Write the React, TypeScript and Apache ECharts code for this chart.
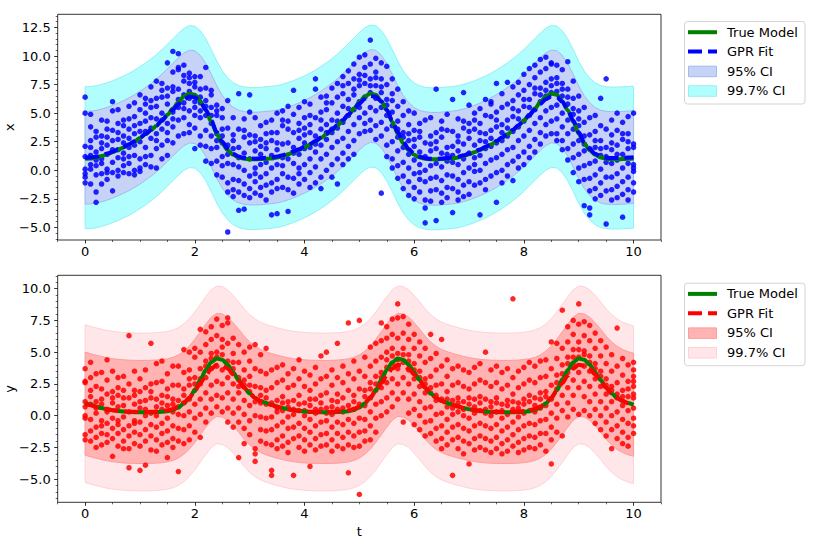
import React, { useEffect, useRef } from 'react';
import * as echarts from 'echarts';

// ---------------- data ----------------
const tValues = [
  0, 0.1, 0.2, 0.3, 0.4, 0.5, 0.6, 0.7, 0.8, 0.9,
  1, 1.1, 1.2, 1.3, 1.4, 1.5, 1.6, 1.7, 1.8, 1.9,
  2, 2.1, 2.2, 2.3, 2.4, 2.5, 2.6, 2.7, 2.8, 2.9,
  3, 3.1, 3.2, 3.3, 3.4, 3.5, 3.6, 3.7, 3.8, 3.9,
  4, 4.1, 4.2, 4.3, 4.4, 4.5, 4.6, 4.7, 4.8, 4.9,
  5, 5.1, 5.2, 5.3, 5.4, 5.5, 5.6, 5.7, 5.8, 5.9,
  6, 6.1, 6.2, 6.3, 6.4, 6.5, 6.6, 6.7, 6.8, 6.9,
  7, 7.1, 7.2, 7.3, 7.4, 7.5, 7.6, 7.7, 7.8, 7.9,
  8, 8.1, 8.2, 8.3, 8.4, 8.5, 8.6, 8.7, 8.8, 8.9,
  9, 9.1, 9.2, 9.3, 9.4, 9.5, 9.6, 9.7, 9.8, 9.9,
  10,
];

const trueX = [
  1.0, 1.04, 1.12, 1.24, 1.4, 1.58, 1.78, 2.0, 2.25, 2.52, 2.82, 3.15, 3.5, 3.9, 4.35, 4.85, 5.4, 5.95, 6.45, 6.72, 6.6, 6.05, 5.25, 4.25, 3.2, 2.35, 1.75, 1.35, 1.12, 1.02, 0.97, 0.96, 0.98,
  1.0, 1.04, 1.12, 1.24, 1.4, 1.58, 1.78, 2.0, 2.25, 2.52, 2.82, 3.15, 3.5, 3.9, 4.35, 4.85, 5.4, 5.95, 6.45, 6.72, 6.6, 6.05, 5.25, 4.25, 3.2, 2.35, 1.75, 1.35, 1.12, 1.02, 0.97, 0.96, 0.98,
  1.0, 1.04, 1.12, 1.24, 1.4, 1.58, 1.78, 2.0, 2.25, 2.52, 2.82, 3.15, 3.5, 3.9, 4.35, 4.85, 5.4, 5.95, 6.45, 6.72, 6.6, 6.05, 5.25, 4.25, 3.2, 2.35, 1.75, 1.35, 1.12, 1.02, 0.97, 0.96, 0.98,
  1.0, 1.04,
];

const gprX = [
  1.1, 1.12, 1.18, 1.3, 1.45, 1.62, 1.82, 2.04, 2.28, 2.55, 2.85, 3.18, 3.53, 3.92, 4.35, 4.82, 5.3, 5.78, 6.2, 6.45, 6.4, 6.0, 5.3, 4.35, 3.35, 2.5, 1.88, 1.45, 1.2, 1.08, 1.03, 1.02, 1.05,
  1.1, 1.14, 1.2, 1.32, 1.47, 1.64, 1.84, 2.06, 2.3, 2.57, 2.87, 3.2, 3.56, 3.96, 4.4, 4.88, 5.36, 5.84, 6.26, 6.5, 6.44, 6.02, 5.3, 4.35, 3.34, 2.48, 1.86, 1.43, 1.18, 1.06, 1.01, 1.0, 1.03,
  1.08, 1.12, 1.19, 1.31, 1.46, 1.63, 1.83, 2.05, 2.29, 2.56, 2.86, 3.19, 3.55, 3.94, 4.37, 4.84, 5.32, 5.8, 6.22, 6.46, 6.41, 6.0, 5.3, 4.34, 3.33, 2.47, 1.86, 1.44, 1.2, 1.1, 1.07, 1.07, 1.09,
  1.12, 1.15,
];

const trueY = [
  1.0, 0.85, 0.72, 0.6, 0.5, 0.43, 0.37, 0.32, 0.29, 0.27, 0.26, 0.26, 0.27, 0.28, 0.3, 0.35, 0.45, 0.65, 0.98, 1.4, 2.0, 2.8, 3.6, 4.2, 4.5, 4.4, 4.0, 3.4, 2.8, 2.2, 1.75, 1.4, 1.15,
  1.0, 0.85, 0.72, 0.6, 0.5, 0.43, 0.37, 0.32, 0.29, 0.27, 0.26, 0.26, 0.27, 0.28, 0.3, 0.35, 0.45, 0.65, 0.98, 1.4, 2.0, 2.8, 3.6, 4.2, 4.5, 4.4, 4.0, 3.4, 2.8, 2.2, 1.75, 1.4, 1.15,
  1.0, 0.85, 0.72, 0.6, 0.5, 0.43, 0.37, 0.32, 0.29, 0.27, 0.26, 0.26, 0.27, 0.28, 0.3, 0.35, 0.45, 0.65, 0.98, 1.4, 2.0, 2.8, 3.6, 4.2, 4.5, 4.4, 4.0, 3.4, 2.8, 2.2, 1.75, 1.4, 1.15,
  1.0, 0.85,
];

const gprY = [
  0.95, 0.82, 0.7, 0.6, 0.5, 0.43, 0.38, 0.34, 0.31, 0.3, 0.29, 0.29, 0.3, 0.32, 0.36, 0.42, 0.53, 0.72, 1.02, 1.42, 1.95, 2.55, 3.15, 3.7, 4.0, 3.95, 3.7, 3.25, 2.75, 2.2, 1.75, 1.4, 1.15,
  0.97, 0.83, 0.71, 0.6, 0.5, 0.43, 0.38, 0.34, 0.31, 0.3, 0.29, 0.29, 0.3, 0.32, 0.36, 0.42, 0.53, 0.72, 1.02, 1.42, 1.95, 2.55, 3.15, 3.7, 4.0, 3.95, 3.7, 3.25, 2.75, 2.2, 1.75, 1.4, 1.15,
  0.98, 0.84, 0.72, 0.61, 0.51, 0.44, 0.38, 0.34, 0.31, 0.3, 0.29, 0.29, 0.3, 0.32, 0.36, 0.42, 0.53, 0.72, 1.02, 1.42, 1.95, 2.55, 3.15, 3.7, 4.0, 3.95, 3.7, 3.25, 2.75, 2.2, 1.75, 1.4, 1.15,
  0.98, 0.86,
];

const sigmaX = 2.07;
const sigmaY = 2.07;

// observations: one column per t value
const xScatter: number[][] = [
  [6.4, 5.0, 2.1, 1.2, 0.1, -0.3, -0.6, -1.1],
  [4.9, 3.8, 2.6, 1.3, 0.5, 0.1, -1.2, 2.0],
  [-2.8, -1.9, 0.4, 1.6, 2.9, 3.4, 0.9, -0.4],
  [4.4, 3.0, 1.9, 0.6, -0.3, -1.2, 2.4, 1.0],
  [3.6, 4.3, 2.2, 0.1, -0.8, 1.4, 2.9, -0.2],
  [6.0, -1.8, 1.8, 3.5, 0.7, -0.2, 2.6, 5.2],
  [5.3, 4.1, 2.7, 1.1, 0.0, -0.5, 3.3, 1.8],
  [3.9, 2.4, 1.0, -0.2, 4.4, 0.4, 3.0, 1.5],
  [5.6, 4.5, 2.8, 1.2, -0.3, 0.6, 3.6, 2.0],
  [4.7, 3.2, 1.3, 0.0, 5.9, 2.2, -0.4, 3.9],
  [6.6, 4.1, 2.5, 1.0, 0.2, 3.4, 5.3, -0.1],
  [6.3, 5.0, 3.4, 2.0, 0.5, 4.3, 1.2, 5.8],
  [7.3, 5.5, 4.6, 2.8, 1.3, 0.3, 3.7, 6.1],
  [7.8, 6.3, 4.5, 3.2, 1.9, 0.2, 5.6, 2.6],
  [7.6, 6.4, 5.0, 3.6, 2.2, 1.0, 4.4, 7.0],
  [9.4, 7.2, 5.8, 4.1, 2.6, 1.3, 6.5, 3.3],
  [10.4, 8.6, 6.9, 5.1, 3.8, 2.4, 4.5, 7.3],
  [10.2, 8.8, 7.1, 5.5, 4.4, 3.0, 6.2, 9.0],
  [9.2, 7.8, 6.6, 5.4, 4.6, 3.2, 8.3, 5.9],
  [8.5, 7.6, 6.3, 5.2, 4.0, 3.3, 8.1, 6.9],
  [8.2, 7.3, 6.0, 4.8, 3.7, 1.9, 5.5, 7.7],
  [8.2, 7.1, 5.9, 4.6, 3.0, 2.2, 6.4, 5.2],
  [9.0, 7.2, 6.1, 4.8, 3.5, 2.1, 5.6, 0.8],
  [6.6, 5.5, 4.1, 3.0, 1.9, 0.6, 7.0, 4.8],
  [5.7, 4.8, 3.2, 2.0, 0.8, -0.4, 5.2, 2.6],
  [5.4, 3.6, 2.4, 1.2, 0.4, -0.6, 4.6, 3.0],
  [6.1, -5.4, 3.7, 2.2, 0.6, -1.1, -1.9, 1.4],
  [4.6, 3.1, 1.9, 0.5, -0.8, -1.7, 2.6, -2.3],
  [6.7, -3.5, 3.6, 2.0, 0.3, -0.9, -1.9, 1.1],
  [-3.4, 4.5, 2.9, 1.5, 0.0, -1.2, -2.2, 3.5],
  [6.6, 5.1, 2.4, 1.0, -0.5, -1.6, -2.4, 3.1],
  [4.6, 3.0, 1.7, 0.2, -1.0, -2.0, 2.5, -0.3],
  [3.9, 2.7, 1.4, 0.5, -0.6, -1.5, -2.2, 2.1],
  [4.2, 3.2, 1.9, 0.7, -0.3, -1.3, -2.6, 2.4],
  [-3.9, 4.4, 2.6, 1.3, 0.2, -1.1, 3.3, -1.9],
  [-3.8, 5.0, 3.3, 1.8, 0.5, -0.8, 2.4, -1.6],
  [5.2, 3.9, 2.3, 1.1, -0.3, -1.5, 4.4, 0.4],
  [-3.6, 5.6, 3.6, 2.4, 1.0, -0.6, 4.3, -1.7],
  [7.0, 4.9, 3.3, 2.0, 0.6, -0.7, -2.0, 1.5],
  [5.5, 4.1, 2.8, 1.4, 0.2, -1.2, 3.5, -0.3],
  [6.0, 4.6, 3.1, 1.9, 0.5, -0.8, 3.7, 2.4],
  [5.8, 4.8, 3.3, 2.0, 1.0, -0.2, -1.5, 4.0],
  [8.0, 7.1, 4.6, 3.0, 1.6, 0.3, -1.1, 2.3],
  [6.4, 5.1, 3.6, 2.2, 1.0, -0.6, 4.4, -1.6],
  [6.5, 5.3, 4.0, 2.7, 1.4, 0.0, 5.9, 3.3],
  [7.2, 5.9, 4.4, 3.3, 2.0, 0.5, -0.6, 3.6],
  [7.6, 6.4, 5.0, 3.7, 2.5, 1.0, -1.2, 4.3],
  [8.2, 6.7, 5.6, 4.2, 2.8, 1.5, 0.5, 7.4],
  [8.7, 7.6, 6.2, 4.8, 3.4, 2.1, 1.0, 5.4],
  [9.3, 8.0, 6.6, 5.3, 4.0, 2.6, 1.4, 7.1],
  [9.9, 8.4, 7.4, 6.0, 4.6, 3.2, 5.5, 7.9],
  [10.1, 9.0, 7.6, 6.4, 5.0, 4.1, 3.4, 8.3],
  [11.4, 9.3, 8.0, 6.8, 5.5, 4.4, 3.5, 7.4],
  [9.8, 8.6, 7.4, 6.3, 5.2, 3.9, 2.7, 8.1],
  [9.4, 8.0, 6.8, 5.5, 4.2, 3.0, -2.0, 7.3],
  [9.1, 7.5, 6.2, 4.8, 3.6, 2.2, 1.2, 5.7],
  [8.0, 6.7, 5.1, 3.9, 2.5, 1.0, 0.2, 6.1],
  [7.1, 5.6, 4.3, 2.9, 1.7, 0.4, -0.7, 3.6],
  [6.0, 4.8, 3.3, 2.0, 0.7, -0.5, -1.6, 2.9],
  [5.2, 4.0, 2.6, 1.4, 0.2, -1.0, -2.2, 3.2],
  [5.0, 3.5, 2.1, 0.9, -0.3, -1.5, -2.5, 2.7],
  [4.1, 2.9, 1.6, 0.5, -0.8, -1.9, 3.4, -0.2],
  [-3.3, -2.6, -4.6, 4.4, 2.4, 1.2, 0.0, -1.0],
  [4.6, 3.0, 1.7, 0.4, -0.7, -1.8, 2.3, -2.7],
  [7.1, -4.4, 3.3, 1.9, 0.6, -0.6, -1.7, 2.5],
  [4.3, 2.9, 1.5, 0.3, -0.9, -2.0, 3.6, -2.8],
  [4.9, 3.5, 2.0, 0.8, -0.4, -1.5, -2.4, 1.4],
  [6.2, -3.7, 3.4, 2.1, 0.7, -0.5, -1.6, 1.3],
  [4.5, 3.0, 1.7, 0.5, -0.8, -1.9, 2.5, -2.6],
  [6.8, 3.7, 2.3, 1.0, -0.2, -1.3, -2.3, 4.3],
  [5.7, 4.1, 2.8, 1.5, 0.2, -1.0, -2.1, 3.4],
  [5.0, 3.6, 2.2, 1.1, -0.1, -1.3, 4.4, 0.5],
  [-3.9, 5.4, 4.1, 2.6, 1.3, 0.0, -1.1, 3.3],
  [6.2, 4.8, 3.2, 1.9, 0.6, -0.8, -1.7, 2.5],
  [5.8, 4.7, 3.5, 2.1, 0.9, -0.5, 6.0, 2.8],
  [7.6, -2.8, 5.1, 3.8, 2.4, 1.1, -0.2, 4.4],
  [6.7, 5.5, 4.0, 2.6, 1.4, 0.0, -1.1, 3.3],
  [7.7, 5.8, 4.4, 3.0, 1.8, 0.5, -0.5, 3.7],
  [7.3, 6.1, 4.7, 3.4, 2.0, 0.8, -0.9, 5.4],
  [7.7, 6.6, 5.2, 3.8, 2.6, 1.2, 0.2, 4.5],
  [8.4, 7.0, 5.6, 4.3, 3.0, 1.6, 0.5, 6.2],
  [8.9, 7.5, 6.2, 4.8, 3.5, 2.1, 1.1, 5.5],
  [9.2, 8.1, 6.7, 5.3, 4.1, 2.7, 1.6, 7.2],
  [9.7, 8.6, 7.2, 6.0, 4.6, 3.3, 2.3, 6.6],
  [9.9, 8.9, 7.7, 6.5, 5.2, 4.0, 3.0, 7.0],
  [9.4, 9.3, 8.0, 6.8, 5.5, 4.3, 3.2, 7.4],
  [9.2, 8.1, 6.9, 5.7, 4.5, 3.2, 7.6, 2.6],
  [8.8, 7.6, 6.5, 5.0, 3.8, 2.6, 1.8, 7.1],
  [9.5, 7.1, 5.8, 4.4, 3.2, 1.9, 0.9, 6.4],
  [7.8, 6.3, 4.9, 3.6, 2.3, 1.1, -0.2, 5.4],
  [6.5, 5.2, 3.9, 2.6, 1.4, 0.2, -1.0, 4.5],
  [-3.1, 5.5, 4.2, 3.0, 1.7, 0.4, -0.8, 2.3],
  [-3.3, -3.9, 4.6, 3.1, 1.9, 0.6, -0.7, -1.8],
  [4.8, 3.4, 2.0, 0.8, -0.4, -1.6, -2.5, 2.6],
  [6.3, 3.9, 2.6, 1.3, 0.1, -1.1, -2.2, 1.9],
  [8.0, -4.7, 3.6, 2.0, 0.7, -0.6, -1.8, 1.2],
  [4.4, 3.1, 1.8, 0.6, -0.6, -1.7, -2.6, 2.4],
  [5.0, 3.5, 2.2, 0.9, -0.3, -1.4, -2.4, 1.4],
  [-4.1, 4.2, 2.7, 1.4, 0.2, -1.0, -2.1, 3.2],
  [4.7, 3.2, 1.9, 0.6, -0.6, -1.7, -2.6, 2.5],
  [5.0, 2.3, 2.0, 0.5, 0.2, -0.1, -1.1, -1.9],
];

const yScatter: number[][] = [
  [3.7, 2.7, 2.6, 1.1, 0.7, 0.0, -0.2, -1.5, -1.9],
  [4.2, 2.0, 0.9, -0.3, -1.2, 1.5, 3.0, -2.0],
  [3.3, 2.3, 1.1, 0.2, -0.9, -1.7, -2.5, 0.6],
  [3.4, 2.1, 1.3, -0.4, -0.8, -1.4, -2.3, 0.9],
  [4.4, 2.8, 1.7, 0.5, -0.6, -1.5, -2.1, 0.3],
  [-3.2, 3.5, 1.9, 1.0, -0.2, -1.0, -1.8, 1.4],
  [3.0, 1.6, 0.7, -0.4, -1.4, -2.4, 2.2, -0.7],
  [3.1, 2.0, 0.8, -0.1, -1.1, -2.0, -2.6, 1.4],
  [6.3, -4.1, 2.5, 1.4, 0.3, -0.8, -1.6, -2.6],
  [3.5, 2.0, 0.9, -0.4, -1.3, -2.2, 1.6, -0.6],
  [-4.3, 2.9, 1.9, 0.6, -0.5, -1.5, -2.4, 1.1],
  [-3.9, 3.6, 2.2, 1.2, 0.0, -1.1, -2.0, 0.5],
  [5.7, 2.5, 1.4, 0.2, -0.7, -1.6, -2.7, 1.9],
  [4.1, 2.6, 1.3, 0.0, -0.9, -1.9, -2.8, 0.7],
  [4.3, 2.7, 1.6, 0.5, -0.6, -1.4, -2.3, 1.0],
  [-3.3, 3.3, 2.1, 0.8, -0.2, -1.2, -2.1, 1.5],
  [3.9, 2.4, 1.3, 0.3, -0.8, -1.8, -2.5, 0.9],
  [3.9, -4.4, 2.4, 1.2, 0.1, -1.0, -2.0, 0.7],
  [5.2, 3.4, 2.1, 1.0, 0.0, -1.1, -2.2, 1.6],
  [5.0, 3.6, 2.4, 1.3, 0.3, -0.8, -1.9, 2.9],
  [5.3, 4.6, 3.0, 2.0, 0.9, -0.2, -1.3, 2.5],
  [-1.7, 6.8, 5.0, 3.7, 2.5, 1.3, 0.1, 2.9],
  [6.6, 5.6, 4.3, 3.0, 1.8, 0.6, -0.5, 3.9],
  [7.0, 6.0, 4.9, 3.7, 2.4, 1.3, 0.2, 4.5],
  [7.6, 6.3, 5.0, 3.9, 2.7, 1.6, 0.7, 4.6],
  [7.1, 6.0, 4.8, 3.6, 2.5, 1.4, 0.3, 5.4],
  [7.7, 7.3, 5.7, 4.3, 3.0, 1.8, 0.6, -0.5],
  [6.1, 4.9, 3.7, 2.5, 1.3, 0.2, -0.9, 4.2],
  [-3.3, 5.6, 4.2, 3.0, 1.8, 0.6, -0.5, 2.3],
  [-2.2, 5.0, 3.6, 2.4, 1.2, 0.1, -1.0, 2.8],
  [5.4, 4.3, 3.1, 1.9, 0.8, -0.4, -1.5, 2.4],
  [5.6, -2.6, -3.0, -3.6, 3.7, 2.3, 1.1, 0.0],
  [4.8, 3.5, 2.2, 1.0, -0.1, -1.1, -2.0, 1.6],
  [5.3, 3.3, 2.0, 0.9, -0.2, -1.2, -2.2, 1.4],
  [-4.3, -4.7, 3.6, 2.2, 1.0, -0.1, -1.1, -2.3],
  [3.8, 2.6, 1.2, 0.3, -0.8, -1.9, -2.6, 0.6],
  [4.0, 2.8, 1.5, 0.4, -0.5, -1.6, -2.4, 1.0],
  [3.3, 2.2, 1.1, -0.1, -1.0, -2.1, -2.9, 0.7],
  [-4.7, 3.7, 2.4, 1.2, 0.1, -0.9, -1.8, 0.5],
  [4.4, 2.9, 1.6, 0.4, -0.6, -1.6, -2.5, 0.9],
  [3.5, 2.3, 1.0, 0.0, -1.0, -1.9, -2.8, 0.4],
  [-4.0, 3.2, 2.0, 0.8, -0.3, -1.3, -2.3, 1.3],
  [3.8, 2.5, 1.3, 0.2, -0.8, -1.8, -2.7, 0.5],
  [4.7, 2.9, 1.6, 0.5, -0.5, -1.5, -2.4, 1.0],
  [5.0, 3.1, 1.8, 0.6, -0.4, -1.4, -2.3, 0.2],
  [3.6, 2.4, 1.2, 0.1, -0.9, -1.9, -2.8, 0.7],
  [5.7, 3.0, 1.7, 0.5, -0.5, -1.4, -2.4, 1.1],
  [3.9, 2.6, 1.4, 0.3, -0.7, -1.7, -2.6, 0.6],
  [7.3, -4.5, 3.3, 2.0, 0.8, -0.3, -1.3, -2.3],
  [4.3, 2.9, 1.6, 0.5, -0.6, -1.6, -2.5, 1.1],
  [7.5, -6.2, 3.5, 2.1, 0.9, -0.2, -1.3, -2.4],
  [4.6, 3.1, 2.0, 0.8, -0.3, -1.2, -2.0, 1.5],
  [5.4, 3.9, 2.6, 1.4, 0.3, -0.8, -1.9, 2.1],
  [-1.3, 5.7, 4.3, 3.1, 2.0, 0.9, -0.2, 2.5],
  [7.3, 5.9, 4.6, 3.4, 2.2, 1.1, 0.0, 3.0],
  [7.0, 6.1, 5.0, 3.8, 2.6, 1.4, 0.3, 4.4],
  [7.6, 6.4, 5.3, 4.1, 2.9, 1.8, 0.7, 4.7],
  [8.8, 7.7, 6.1, 4.9, 3.7, 2.5, 1.3, 4.4],
  [7.8, 6.5, 5.3, 4.2, 3.0, 1.8, -0.5, 4.8],
  [7.2, 6.0, 4.8, 3.6, 2.5, 1.3, 0.2, 4.3],
  [6.4, 5.3, 4.1, 2.9, 1.7, 0.5, -0.7, 3.6],
  [5.8, 4.7, 3.5, 2.3, 1.1, 0.0, -1.1, 3.0],
  [5.3, 4.2, 2.9, 1.8, 0.6, -0.5, -1.6, 2.5],
  [6.4, 4.5, 3.1, 1.8, 0.7, -0.4, -1.4, 2.2],
  [4.9, 3.6, 2.4, 1.2, 0.1, -1.0, -2.0, 1.6],
  [6.0, 3.9, 2.5, 1.3, 0.2, -0.8, -1.8, -2.6],
  [4.4, 3.1, 1.9, 0.7, -0.3, -1.3, -2.3, 1.3],
  [-4.7, 3.7, 2.4, 1.2, 0.1, -0.9, -1.9, 0.6],
  [3.9, 2.6, 1.4, 0.3, -0.7, -1.7, -2.6, 1.0],
  [-3.0, 3.6, 2.3, 1.1, 0.0, -1.0, -2.0, 0.5],
  [-3.8, 3.4, 2.1, 0.9, -0.2, -1.2, -2.2, 1.4],
  [3.8, 2.5, 1.3, 0.2, -0.8, -1.8, -2.7, 0.7],
  [4.1, 2.8, 1.5, 0.4, -0.6, -1.6, -2.5, 1.0],
  [5.0, 2.6, 1.3, 0.2, -0.8, -1.8, -2.7, 0.5],
  [3.6, 2.3, 1.1, 0.0, -1.0, -2.0, -2.9, 0.7],
  [3.9, 2.6, 1.4, 0.3, -0.7, -1.7, -2.6, 1.0],
  [3.4, 2.1, 0.9, -0.2, -1.2, -2.2, -3.0, 0.4],
  [3.7, 2.4, 1.2, 0.1, -0.9, -1.9, -2.8, 0.8],
  [9.2, 3.0, 1.7, 0.5, -0.5, -1.5, -2.4, 1.1],
  [3.5, 2.2, 1.0, -0.1, -1.1, -2.1, -2.9, 0.6],
  [3.8, 2.5, 1.3, 0.2, -0.8, -1.8, -2.7, 0.9],
  [4.2, 2.8, 1.6, 0.4, -0.6, -1.6, -2.5, 1.1],
  [3.9, 2.6, 1.4, 0.3, -0.7, -1.7, -2.6, 0.8],
  [4.3, 3.0, 1.8, 0.6, -0.4, -1.4, -2.3, 1.3],
  [-2.8, 4.4, 3.1, 1.9, 0.8, -0.3, -1.4, 1.5],
  [5.8, -3.8, 3.7, 2.4, 1.3, 0.2, -0.9, -1.9],
  [5.7, 4.5, 3.2, 2.1, 0.9, -0.2, -1.3, 2.6],
  [8.3, -1.6, 5.3, 4.0, 2.8, 1.6, 0.4, 3.3],
  [7.0, 5.8, 4.6, 3.4, 2.2, 1.0, -0.1, 4.1],
  [7.5, 6.4, 5.2, 4.0, 2.8, 1.6, 0.5, 4.6],
  [8.8, 7.2, 5.8, 4.6, 3.4, 2.2, 0.1, 5.2],
  [7.4, 6.3, 5.1, 3.9, 2.7, 1.5, 0.4, 4.8],
  [7.1, 5.9, 4.7, 3.5, 2.3, 1.1, 0.0, 4.2],
  [6.5, 5.3, 4.1, 2.9, 1.7, 0.5, -0.6, 3.7],
  [5.9, 4.7, 3.5, 2.3, 1.1, 0.0, -1.1, 3.1],
  [5.4, 4.1, 2.9, 1.7, 0.6, -0.5, -1.6, 2.4],
  [-2.6, 4.8, 3.5, 2.3, 1.1, 0.0, -1.1, 2.0],
  [6.9, 3.9, 2.6, 1.4, 0.3, -0.8, -1.8, 1.7],
  [4.5, 3.2, 2.0, 0.8, -0.3, -1.3, -2.2, 1.5],
  [-2.4, -1.7, 4.0, 2.7, 1.5, 0.4, -0.6, 2.1],
  [4.2, 3.6, 3.1, 2.7, 2.3, 1.7, 1.4, 0.6, -0.2, -0.8, -1.4],
];

const xTicks = [0, 2, 4, 6, 8, 10];
const yTicksTop = [-5, -2.5, 0, 2.5, 5, 7.5, 10, 12.5];
const yTicksBottom = [-5, -2.5, 0, 2.5, 5, 7.5, 10];
const legendLabels = ['True Model', 'GPR Fit', '95% CI', '99.7% CI'];

// ---------------- helpers ----------------
const FONT = 'DejaVu Sans';

function minorTicks(lo: number, hi: number, step: number, majors: number[]) {
  const out: number[] = [];
  const start = Math.ceil(lo / step - 1e-9);
  const end = Math.floor(hi / step + 1e-9);
  for (let i = start; i <= end; i++) {
    const v = Math.round(i * step * 1000) / 1000;
    if (!majors.some((m) => Math.abs(m - v) < 1e-6)) out.push(v);
  }
  return out;
}

const fmtNum = (v: number) => v.toFixed(1).replace('-', '\u2212');

function xAxesFor(gi: number, withName: boolean) {
  const common = {
    gridIndex: gi,
    type: 'value',
    min: -0.5,
    max: 10.5,
    position: 'bottom',
    axisLine: { show: false, onZero: false },
    splitLine: { show: false },
  };
  return [
    {
      ...common,
      axisTick: { show: true, customValues: xTicks, length: 3.5, lineStyle: { color: '#000', width: 0.8 } },
      axisLabel: { show: true, customValues: xTicks, margin: 5, fontFamily: FONT, fontSize: 13, color: '#000', formatter: (v: number) => String(v) },
      name: withName ? 't' : '',
      nameLocation: 'middle',
      nameGap: 23,
      nameTextStyle: { fontFamily: FONT, fontSize: 13, color: '#000' },
    },
    {
      ...common,
      axisTick: { show: true, customValues: minorTicks(-0.5, 10.5, 0.5, xTicks), length: 2, lineStyle: { color: '#000', width: 0.6 } },
      axisLabel: { show: false },
    },
  ];
}

function yAxesFor(gi: number, min: number, max: number, majors: number[]) {
  const common = {
    gridIndex: gi,
    type: 'value',
    min,
    max,
    position: 'left',
    axisLine: { show: false, onZero: false },
    splitLine: { show: false },
  };
  return [
    {
      ...common,
      axisTick: { show: true, customValues: majors, length: 3.5, lineStyle: { color: '#000', width: 0.8 } },
      axisLabel: { show: true, customValues: majors, margin: 7, fontFamily: FONT, fontSize: 13, color: '#000', formatter: fmtNum },
    },
    {
      ...common,
      axisTick: { show: true, customValues: minorTicks(min, max, 0.5, majors), length: 2, lineStyle: { color: '#000', width: 0.6 } },
      axisLabel: { show: false },
    },
  ];
}

function bandSeries(gi: number, lower: number[], upper: number[], fill: string, stroke: string, z: number) {
  return {
    type: 'custom',
    xAxisIndex: gi * 2,
    yAxisIndex: gi * 2,
    z,
    silent: true,
    data: [[0, 0]],
    renderItem: (params: any, api: any) => {
      const pts: number[][] = [];
      for (let i = 0; i < tValues.length; i++) pts.push(api.coord([tValues[i], upper[i]]));
      for (let i = tValues.length - 1; i >= 0; i--) pts.push(api.coord([tValues[i], lower[i]]));
      return { type: 'polygon', shape: { points: pts }, style: { fill, stroke, lineWidth: 1 } };
    },
  };
}

function panelSeries(gi: number, truth: number[], gpr: number[], sigma: number, pts: number[][], c: any) {
  const u95 = gpr.map((m) => m + 1.96 * sigma);
  const l95 = gpr.map((m) => m - 1.96 * sigma);
  const u997 = gpr.map((m) => m + 3 * sigma);
  const l997 = gpr.map((m) => m - 3 * sigma);
  const scatter = pts.flatMap((col, i) => col.map((v) => [tValues[i], v]));
  return [
    bandSeries(gi, l997, u997, c.outerFill, c.outerEdge, 1),
    bandSeries(gi, l95, u95, c.innerFill, c.innerEdge, 1),
    {
      type: 'scatter',
      xAxisIndex: gi * 2,
      yAxisIndex: gi * 2,
      z: 2,
      symbolSize: 5.5,
      data: scatter,
      itemStyle: { color: c.point, opacity: 0.85 },
      silent: true,
    },
    {
      type: 'line',
      xAxisIndex: gi * 2,
      yAxisIndex: gi * 2,
      z: 3,
      symbol: 'none',
      smooth: 0.3,
      smoothMonotone: 'x',
      data: tValues.map((t, i) => [t, truth[i]]),
      lineStyle: { color: '#008000', width: 4 },
      silent: true,
    },
    {
      type: 'line',
      xAxisIndex: gi * 2,
      yAxisIndex: gi * 2,
      z: 4,
      symbol: 'none',
      smooth: 0.3,
      smoothMonotone: 'x',
      data: tValues.map((t, i) => [t, gpr[i]]),
      lineStyle: { color: c.point, width: 4, type: [14, 6] },
      silent: true,
    },
  ];
}

function legendGraphic(top: number, c: any) {
  const rows = [top + 11.2, top + 30.5, top + 50.2, top + 69.8];
  const x0 = 688;
  const x1 = 717;
  const els: any[] = [
    {
      type: 'rect',
      shape: { x: 684.5, y: top + 0.5, width: 120.5, height: 82.5, r: 3 },
      style: { fill: 'rgba(255,255,255,0.8)', stroke: '#d4d4d4', lineWidth: 1 },
    },
    { type: 'line', shape: { x1: x0, y1: rows[0], x2: x1, y2: rows[0] }, style: { stroke: '#008000', lineWidth: 4 } },
    { type: 'line', shape: { x1: x0, y1: rows[1], x2: x1, y2: rows[1] }, style: { stroke: c.point, lineWidth: 4, lineDash: [14, 6] } },
    { type: 'rect', shape: { x: x0 + 0.5, y: rows[2] - 5, width: 28, height: 10.5 }, style: { fill: c.innerFill, stroke: c.innerEdge, lineWidth: 1 } },
    { type: 'rect', shape: { x: x0 + 0.5, y: rows[3] - 5, width: 28, height: 10.5 }, style: { fill: c.outerFill, stroke: c.outerEdge, lineWidth: 1 } },
  ];
  legendLabels.forEach((txt, i) => {
    els.push({
      type: 'text',
      x: 727,
      y: rows[i],
      style: { text: txt, fill: '#000', fontFamily: FONT, fontSize: 13, verticalAlign: 'middle', align: 'left' },
    });
  });
  return els;
}

function axisTitle(text: string, cy: number) {
  return {
    type: 'text',
    x: 9.5,
    y: cy,
    rotation: Math.PI / 2,
    style: { text, fill: '#000', fontFamily: FONT, fontSize: 13, align: 'center', verticalAlign: 'middle' },
  };
}

const blueColors = {
  point: '#0000ff',
  innerFill: '#c6d2f6',
  innerEdge: '#9fbcee',
  outerFill: '#b2fdfd',
  outerEdge: '#8ef2f6',
};
const redColors = {
  point: '#ff0000',
  innerFill: '#ffb3b3',
  innerEdge: '#ff9c9c',
  outerFill: '#ffe6e8',
  outerEdge: '#ffd2d6',
};

function buildOption() {
  const gridCommon = {
    left: 57.7,
    width: 603.3,
    show: true,
    borderColor: '#000',
    borderWidth: 0.8,
    backgroundColor: 'transparent',
    containLabel: false,
    outerBoundsMode: 'none',
  };
  return {
    animation: false,
    backgroundColor: '#ffffff',
    grid: [
      { ...gridCommon, top: 14.3, height: 225.7 },
      { ...gridCommon, top: 275.3, height: 227 },
    ],
    xAxis: [...xAxesFor(0, false), ...xAxesFor(1, true)],
    yAxis: [
      ...yAxesFor(0, -6.1, 13.65, yTicksTop),
      ...yAxesFor(1, -6.82, 11.05, yTicksBottom),
    ],
    series: [
      ...panelSeries(0, trueX, gprX, sigmaX, xScatter, blueColors),
      ...panelSeries(1, trueY, gprY, sigmaY, yScatter, redColors),
    ],
    graphic: [
      axisTitle('x', 127.2),
      axisTitle('y', 388.8),
      ...legendGraphic(21, blueColors),
      ...legendGraphic(282.7, redColors),
    ],
  };
}

export default function App() {
  const ref = useRef<HTMLDivElement>(null);
  useEffect(() => {
    document.body.style.margin = '0';
    const chart = echarts.init(ref.current as HTMLDivElement, null, { renderer: 'svg' });
    chart.setOption(buildOption() as any);
    return () => chart.dispose();
  }, []);
  return (
    <div
      ref={ref}
      style={{ width: 830, height: 554, position: 'absolute', left: 0, top: 0, background: '#fff' }}
    />
  );
}
